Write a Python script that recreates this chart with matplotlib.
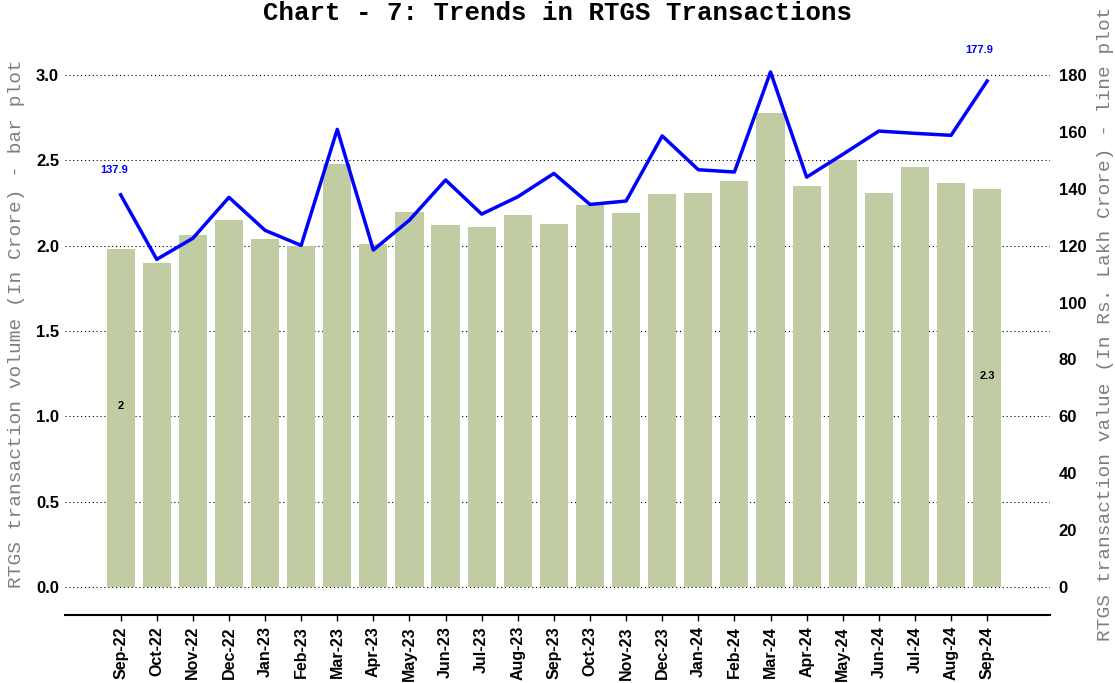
import numpy as np
import matplotlib
matplotlib.use("Agg")
import matplotlib.pyplot as plt

# data
months = ['Sep-22', 'Oct-22', 'Nov-22', 'Dec-22', 'Jan-23', 'Feb-23', 'Mar-23',
          'Apr-23', 'May-23', 'Jun-23', 'Jul-23', 'Aug-23', 'Sep-23', 'Oct-23',
          'Nov-23', 'Dec-23', 'Jan-24', 'Feb-24', 'Mar-24', 'Apr-24', 'May-24',
          'Jun-24', 'Jul-24', 'Aug-24', 'Sep-24']
volume = [1.98, 1.90, 2.06, 2.15, 2.04, 2.00, 2.48, 2.01, 2.20, 2.12, 2.11, 2.18,
          2.13, 2.24, 2.19, 2.30, 2.31, 2.38, 2.78, 2.35, 2.50, 2.31, 2.46, 2.37,
          2.33]
value = [137.9, 115.2, 122.6, 137.0, 125.4, 120.1, 160.9, 118.5, 129.0, 143.1,
         131.1, 137.2, 145.4, 134.5, 135.7, 158.6, 146.7, 145.9, 181.1, 144.1,
         152.1, 160.3, 159.5, 158.8, 177.9]

mono = 'Liberation Mono'
sans = 'Liberation Sans'

fig = plt.figure(figsize=(11.15, 6.83), dpi=100)
ax = fig.add_axes([0.058, 0.0996, 0.884, 0.853])
x = np.arange(len(months))

ax.bar(x, volume, width=0.78, color='#c2cca3', zorder=2)
ax.set_xlim(-1.55, 25.75)
ax.set_ylim(-0.164, 3.25)
ax.set_yticks(np.arange(0, 3.01, 0.5))
ax.set_yticklabels(['%.1f' % t for t in np.arange(0, 3.01, 0.5)],
                   fontfamily=sans, fontweight='bold', fontsize=12)
ax.set_xticks(x)
ax.set_xticklabels(months, rotation=90, fontfamily=sans, fontweight='bold', fontsize=11.5)
ax.tick_params(axis='y', length=0, pad=4)
ax.tick_params(axis='x', length=4, width=1, direction='out', pad=4)
ax.yaxis.grid(True, linestyle=(0, (1, 2.5)), color='black', linewidth=0.8, zorder=0)
ax.set_axisbelow(True)
for s in ['top', 'left', 'right']:
    ax.spines[s].set_visible(False)
ax.spines['bottom'].set_linewidth(1.5)

# first and last bar labels
for i in [0, len(volume) - 1]:
    ax.annotate('%g' % round(volume[i], 1), (x[i], volume[i] / 2), xytext=(0, 9),
                textcoords='offset points', ha='center', va='center',
                fontfamily=sans, fontweight='bold', fontsize=8, zorder=5)

ax.set_ylabel('RTGS transaction volume (In Crore) - bar plot', fontfamily=mono,
              fontsize=14, color='#7f7f7f', labelpad=8)

ax2 = ax.twinx()
ax2.plot(x, value, color='#0000ff', linewidth=2.5, zorder=3)
ax2.set_ylim(-0.164 * 60, 3.25 * 60)
ax2.set_yticks(np.arange(0, 181, 20))
ax2.set_yticklabels([str(t) for t in range(0, 181, 20)], fontfamily=sans,
                    fontweight='bold', fontsize=12)
ax2.tick_params(axis='y', length=0, pad=6)
for s in ax2.spines.values():
    s.set_visible(False)
ax2.set_ylabel('RTGS transaction value (In Rs. Lakh Crore) - line plot', fontfamily=mono,
               fontsize=14, color='#7f7f7f', labelpad=8)

# first and last line labels
ax2.annotate('%.1f' % value[0], (x[0], value[0]), xytext=(-5, 18), textcoords='offset points',
             ha='center', va='center', color='#0000ff', fontfamily=sans,
             fontweight='bold', fontsize=8)
ax2.annotate('%.1f' % value[-1], (x[-1], value[-1]), xytext=(-6, 22), textcoords='offset points',
             ha='center', va='center', color='#0000ff', fontfamily=sans,
             fontweight='bold', fontsize=8)

fig.suptitle('Chart - 7: Trends in RTGS Transactions', fontfamily=mono, fontweight='bold',
             fontsize=18.5, y=0.998, va='top')

fig.savefig('out.png', dpi=100)
